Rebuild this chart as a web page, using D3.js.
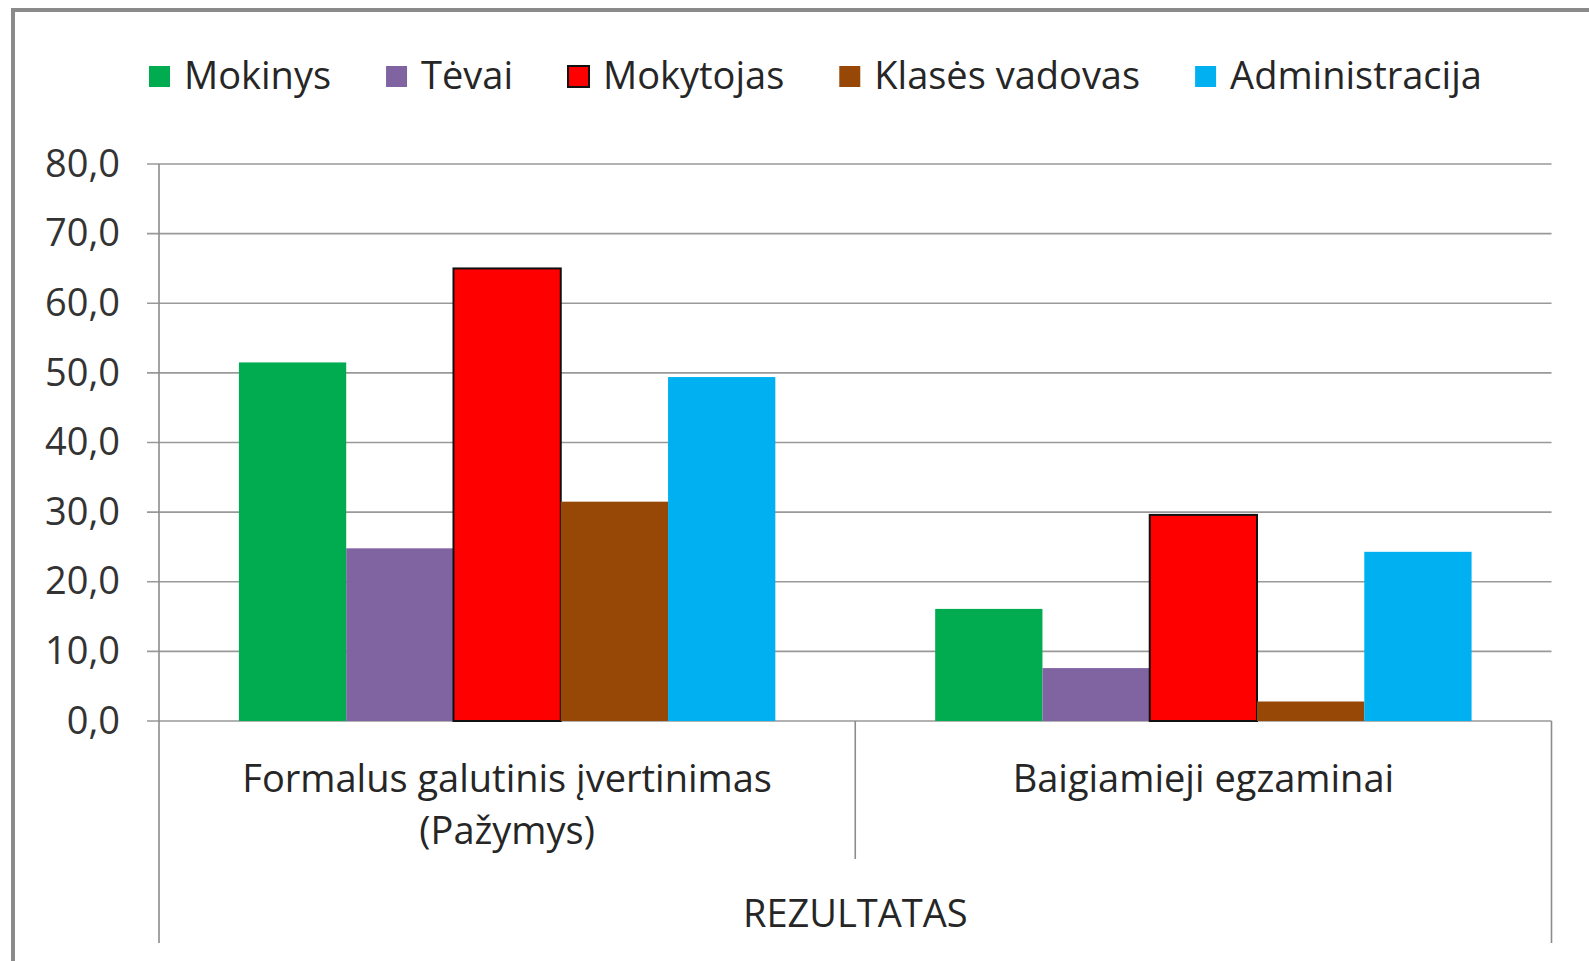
<!DOCTYPE html>
<html>
<head>
<meta charset="utf-8">
<script src="https://cdn.jsdelivr.net/npm/d3@7"></script>
<style>
  html, body { margin: 0; padding: 0; background: #fff; }
  svg { display: block; font-family: "Open Sans", sans-serif; }
</style>
</head>
<body>
<div class="chart"></div>
<script>
// data
const categories = ['Formalus galutinis įvertinimas\n(Pažymys)', 'Baigiamieji egzaminai'];
const seriesNames = ['Mokinys', 'Tėvai', 'Mokytojas', 'Klasės vadovas', 'Administracija'];
const seriesColors = ['#00ac4f', '#8064a2', '#ff0000', '#974806', '#00b0f0'];
const mokinys = [51.5, 16.1];
const tevai = [24.8, 7.6];
const mokytojas = [65.0, 29.6];
const klasesVadovas = [31.5, 2.8];
const administracija = [49.4, 24.3];
const yTicks = [0, 10, 20, 30, 40, 50, 60, 70, 80];
const axisTitle = 'REZULTATAS';

const seriesValues = [mokinys, tevai, mokytojas, klasesVadovas, administracija];

const W = 1589, H = 961;
const plot = { left: 159, right: 1551.5, top: 164, bottom: 721 };
const fontSize = 38;

let svg = d3.select('.chart').append('svg')
	.attr('width', W)
	.attr('height', H);

// outer frame (only top and left edges are visible)
svg.append('path')
	.attr('d', `M13,${H + 10}V10H${W + 10}`)
	.attr('fill', 'none')
	.attr('stroke', '#8a8a8a')
	.attr('stroke-width', 4);

//scales
let y = d3.scaleLinear().domain([0, 80]).range([plot.bottom, plot.top]);
let x0 = d3.scaleBand().domain(categories).range([plot.left, plot.right]).padding(0);
let x1 = d3.scaleBand().domain(seriesNames).range([0, x0.bandwidth()])
	.paddingInner(0).paddingOuter(0.745);

// horizontal grid lines
svg.append('g').selectAll('line')
	.data(yTicks)
	.enter().append('line')
	.attr('x1', plot.left - 12)
	.attr('x2', plot.right)
	.attr('y1', d => y(d))
	.attr('y2', d => y(d))
	.attr('stroke', '#999')
	.attr('stroke-width', 1.6);

// y axis labels
let yAxis = d3.axisLeft(y)
	.tickValues(yTicks)
	.tickSize(0)
	.tickPadding(39)
	.tickFormat(d => d.toFixed(1).replace('.', ','));
let yG = svg.append('g')
	.attr('transform', `translate(${plot.left},0)`)
	.call(yAxis);
yG.select('.domain').remove();
yG.selectAll('text')
	.style('font-family', '"Open Sans", sans-serif')
	.style('font-size', fontSize + 'px')
	.attr('fill', '#333');

// vertical axis + category separators
const lineBottom = 943;
svg.append('line')
	.attr('x1', plot.left).attr('x2', plot.left)
	.attr('y1', plot.top).attr('y2', lineBottom)
	.attr('stroke', '#8c8c8c').attr('stroke-width', 1.6);
svg.append('line')
	.attr('x1', plot.right).attr('x2', plot.right)
	.attr('y1', plot.bottom).attr('y2', lineBottom)
	.attr('stroke', '#8c8c8c').attr('stroke-width', 1.6);
svg.append('g').selectAll('line')
	.data(categories.slice(1))
	.enter().append('line')
	.attr('x1', d => x0(d)).attr('x2', d => x0(d))
	.attr('y1', plot.bottom).attr('y2', 859)
	.attr('stroke', '#8c8c8c').attr('stroke-width', 1.6);

// bars
let groups = svg.append('g').selectAll('g')
	.data(categories)
	.enter().append('g')
	.attr('transform', d => `translate(${x0(d)},0)`);

groups.selectAll('rect')
	.data((c, ci) => seriesNames.map((s, si) => ({ s: s, si: si, v: seriesValues[si][ci] })))
	.enter().append('rect')
	.attr('x', d => x1(d.s))
	.attr('width', x1.bandwidth())
	.attr('y', d => y(d.v))
	.attr('height', d => y(0) - y(d.v))
	.attr('fill', d => seriesColors[d.si])
	.attr('stroke', d => d.s === 'Mokytojas' ? '#111' : 'none')
	.attr('stroke-width', 2);

// category labels
groups.append('text')
	.attr('text-anchor', 'middle')
	.style('font-size', fontSize + 'px')
	.attr('fill', '#262626')
	.selectAll('tspan')
	.data(d => d.split('\n'))
	.enter().append('tspan')
	.attr('x', x0.bandwidth() / 2)
	.attr('y', (d, i) => 792 + i * 52)
	.text(d => d);

// axis title
svg.append('text')
	.attr('x', (plot.left + plot.right) / 2)
	.attr('y', 927)
	.attr('text-anchor', 'middle')
	.style('font-size', fontSize + 'px')
	.attr('fill', '#262626')
	.text(axisTitle);

// legend
let legend = svg.append('g');
let lx = 149;
seriesNames.forEach((name, i) => {
	let item = legend.append('g');
	item.append('rect')
		.attr('x', lx).attr('y', 66)
		.attr('width', 21).attr('height', 21)
		.attr('fill', seriesColors[i])
		.attr('stroke', name === 'Mokytojas' ? '#111' : 'none')
		.attr('stroke-width', 2);
	let t = item.append('text')
		.attr('x', lx + 35)
		.attr('y', 89)
		.style('font-size', fontSize + 'px')
		.attr('fill', '#262626')
		.text(name);
	lx += 35 + t.node().getComputedTextLength() + 55;
});
</script>
</body>
</html>
